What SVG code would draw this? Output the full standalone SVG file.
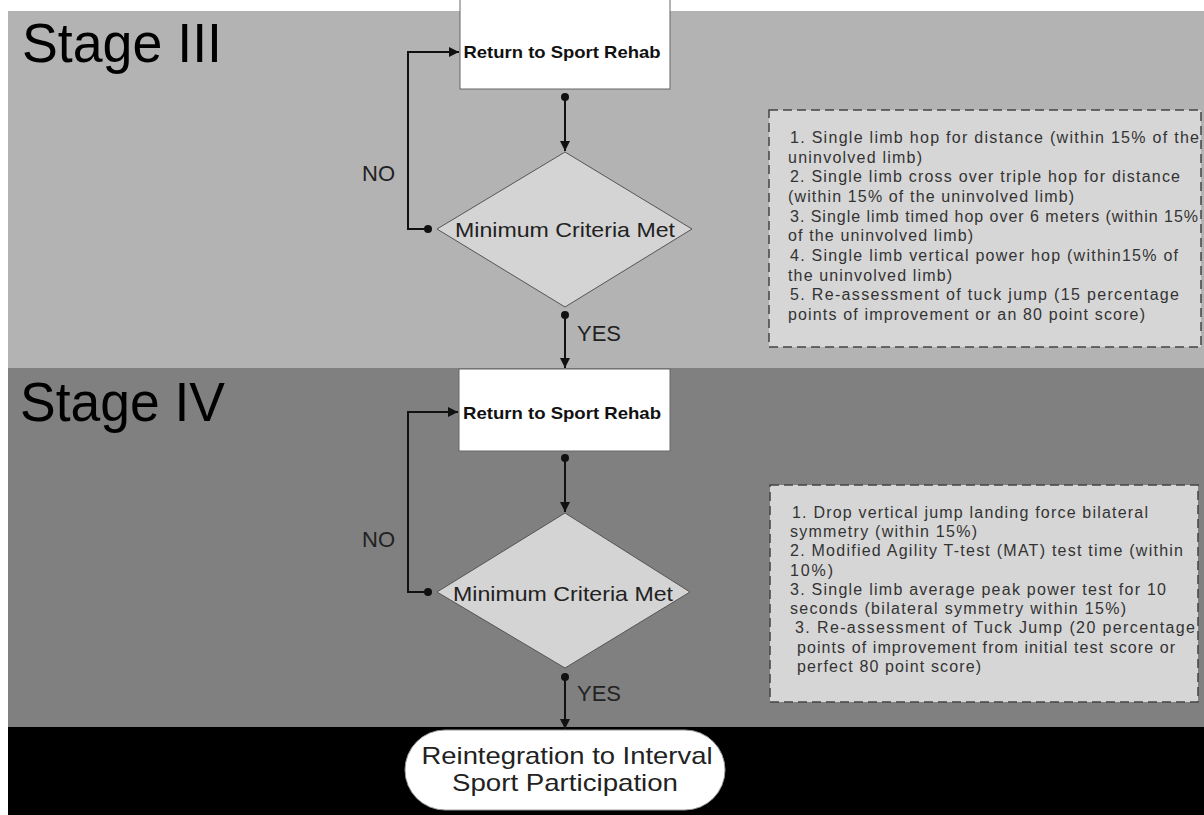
<svg xmlns="http://www.w3.org/2000/svg" width="1204" height="815" viewBox="0 0 1204 815">
<style>
text{font-family:"Liberation Sans",Arial,sans-serif}
.stage{font-size:56px;fill:#000}
.box{fill:#fff;stroke:#666;stroke-width:1}
.dia{fill:#d4d4d4;stroke:#555;stroke-width:1}
.note{fill:#d6d6d6;stroke:#444;stroke-width:1.5;stroke-dasharray:9 5}
.nt{font-size:16px;fill:#333}
.bt{font-size:17px;font-weight:bold;fill:#111;text-anchor:middle}
.dt{font-size:21px;fill:#222;text-anchor:middle}
.yn{font-size:22px;fill:#222}
.rt{font-size:24px;fill:#222;text-anchor:middle}
.conn{stroke:#111;stroke-width:2;fill:none}
.dot{fill:#111}
</style>
<defs>
<marker id="arr" viewBox="0 0 10 10" refX="10" refY="5" markerWidth="10" markerHeight="10" markerUnits="userSpaceOnUse" orient="auto">
<path d="M0,0 L10,5 L0,10 z" fill="#111"/>
</marker>
</defs>
<rect x="0" y="0" width="1204" height="815" fill="#fff"/>
<g id="bands">
<rect x="8" y="11" width="1196" height="357" fill="#b3b3b3"/>
<rect x="8" y="368" width="1196" height="359" fill="#808080"/>
<rect x="8" y="727" width="1196" height="88" fill="#000"/>
</g>
<g id="stage3-title"><text class="stage" x="22" y="62" textLength="200" lengthAdjust="spacingAndGlyphs">Stage III</text></g>
<g id="stage4-title"><text class="stage" x="20" y="421" textLength="205" lengthAdjust="spacingAndGlyphs">Stage IV</text></g>

<g id="rehab3">
<rect class="box" x="460" y="-2" width="210" height="91"/>
<text class="bt" x="562" y="58" textLength="197" lengthAdjust="spacingAndGlyphs">Return to Sport Rehab</text>
</g>
<g id="criteria3">
<polygon class="dia" points="565,152 692,229 565,307 437,229"/>
<text class="dt" x="565" y="237" textLength="220" lengthAdjust="spacingAndGlyphs">Minimum Criteria Met</text>
</g>
<g id="rehab4">
<rect class="box" x="459" y="369" width="211" height="82"/>
<text class="bt" x="562" y="419" textLength="198" lengthAdjust="spacingAndGlyphs">Return to Sport Rehab</text>
</g>
<g id="criteria4">
<polygon class="dia" points="565,513 690,592 565,668 437,592"/>
<text class="dt" x="563" y="601" textLength="220" lengthAdjust="spacingAndGlyphs">Minimum Criteria Met</text>
</g>
<g id="reintegration">
<rect x="405" y="730" width="320" height="80" rx="40" ry="40" fill="#fff" stroke="#999"/>
<text class="rt" x="567" y="764" textLength="291" lengthAdjust="spacingAndGlyphs">Reintegration to Interval</text>
<text class="rt" x="565" y="791" textLength="226" lengthAdjust="spacingAndGlyphs">Sport Participation</text>
</g>

<g id="criteria3-notes">
<rect class="note" x="769" y="110" width="432" height="237"/>
<text class="nt" x="790" y="143" textLength="409">1.  Single limb hop for distance (within 15% of the</text>
<text class="nt" x="788" y="163" textLength="134">uninvolved limb)</text>
<text class="nt" x="790" y="182" textLength="390">2.  Single limb cross over triple hop for distance</text>
<text class="nt" x="788" y="202" textLength="286">(within 15% of the uninvolved limb)</text>
<text class="nt" x="790" y="222" textLength="408">3.  Single limb timed hop over 6 meters (within 15%</text>
<text class="nt" x="788" y="241" textLength="185">of the uninvolved limb)</text>
<text class="nt" x="790" y="261" textLength="388">4.  Single limb vertical power hop (within15% of</text>
<text class="nt" x="788" y="281" textLength="164">the uninvolved limb)</text>
<text class="nt" x="790" y="300" textLength="389">5.  Re-assessment of tuck jump (15 percentage</text>
<text class="nt" x="788" y="320" textLength="357">points of improvement or an 80 point score)</text>
</g>
<g id="criteria4-notes">
<rect class="note" x="770" y="485" width="428" height="217"/>
<text class="nt" x="792" y="518" textLength="356">1.  Drop vertical jump landing force bilateral</text>
<text class="nt" x="790" y="537" textLength="187">symmetry (within 15%)</text>
<text class="nt" x="790" y="556" textLength="393">2.  Modified Agility T-test (MAT) test time (within</text>
<text class="nt" x="790" y="576" textLength="43">10%)</text>
<text class="nt" x="790" y="595" textLength="376">3.  Single limb average peak power test for 10</text>
<text class="nt" x="790" y="614" textLength="336">seconds (bilateral symmetry within 15%)</text>
<text class="nt" x="795" y="633" textLength="400">3.  Re-assessment of Tuck Jump (20 percentage</text>
<text class="nt" x="797" y="653" textLength="378">points of improvement from initial test score or</text>
<text class="nt" x="797" y="672" textLength="184">perfect 80 point score)</text>
</g>

<g id="connectors">
<path class="conn" d="M565,97 V151" marker-end="url(#arr)"/>
<circle class="dot" cx="565" cy="97" r="4"/>
<path class="conn" d="M428,229 H408 V52 H459" marker-end="url(#arr)"/>
<circle class="dot" cx="428" cy="229" r="4"/>
<path class="conn" d="M565,315 V368" marker-end="url(#arr)"/>
<circle class="dot" cx="565" cy="315" r="4"/>
<path class="conn" d="M565,458 V512" marker-end="url(#arr)"/>
<circle class="dot" cx="565" cy="458" r="4"/>
<path class="conn" d="M428,592 H408 V412 H458" marker-end="url(#arr)"/>
<circle class="dot" cx="428" cy="592" r="4"/>
<path class="conn" d="M565,677 V729" marker-end="url(#arr)"/>
<circle class="dot" cx="565" cy="677" r="4"/>
<text class="yn" x="362" y="181">NO</text>
<text class="yn" x="577" y="341">YES</text>
<text class="yn" x="362" y="547">NO</text>
<text class="yn" x="577" y="701">YES</text>
</g>
</svg>
